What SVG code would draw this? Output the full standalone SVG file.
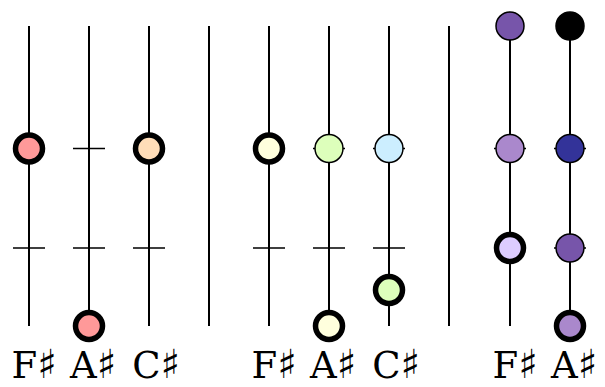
<svg xmlns="http://www.w3.org/2000/svg" width="605" height="387" viewBox="0 0 605 387">
<style>
.ln{stroke:#000;stroke-width:2;fill:none}
.tk{stroke:#000;stroke-width:1.6;fill:none}
.h{stroke:#000;stroke-width:5.5}
.t{stroke:#000;stroke-width:1.5}
.lb{font-family:"DejaVu Serif","DejaVu Sans",serif;font-size:37px;fill:#000}
.sh{font-family:"DejaVu Sans",sans-serif;font-size:40px}
</style>
<rect width="605" height="387" fill="#fff"/>
<g id="connectors">
<path class="ln" d="M29 26V326M89 26V326M149 26V326M209 26V326M269 26V326M329 26V326M389 26V326M449 26V326M510 26V326M570 26V326"/>
<path class="tk" d="M13 148.5H45M73 148.5H105M133 148.5H165M253 148.5H285M313 148.5H345M373 148.5H405M494 148.5H526M554 148.5H586"/>
<path class="tk" d="M13 248H45M73 248H105M133 248H165M253 248H285M313 248H345M373 248H405M494 248H526M554 248H586"/>
</g>
<g id="n1"><circle class="h" cx="29" cy="148.5" r="13.5" fill="#ff9999"/></g>
<g id="n2"><circle class="h" cx="89" cy="326" r="13.5" fill="#ff9999"/></g>
<g id="n3"><circle class="h" cx="149" cy="148.5" r="13.5" fill="#ffddb8"/></g>
<g id="n4"><circle class="h" cx="269" cy="148.5" r="13.5" fill="#ffffdd"/></g>
<g id="n5"><circle class="t" cx="329" cy="148.5" r="14" fill="#ddffbb"/></g>
<g id="n6"><circle class="t" cx="389" cy="148.5" r="14" fill="#cceeff"/></g>
<g id="n7"><circle class="h" cx="329" cy="326" r="13.5" fill="#ffffdd"/></g>
<g id="n8"><circle class="h" cx="389" cy="290" r="13.5" fill="#ddffbb"/></g>
<g id="n9"><circle class="t" cx="510" cy="26" r="14" fill="#7755aa"/></g>
<g id="n10"><circle class="t" cx="510" cy="148.5" r="14" fill="#aa88cc"/></g>
<g id="n11"><circle class="h" cx="510" cy="248" r="13.5" fill="#ddccff"/></g>
<g id="n12"><circle class="t" cx="570" cy="26" r="14" fill="#000"/></g>
<g id="n13"><circle class="t" cx="570" cy="148.5" r="14" fill="#333399"/></g>
<g id="n14"><circle class="t" cx="570" cy="248" r="14" fill="#7755aa"/></g>
<g id="n15"><circle class="h" cx="570" cy="326" r="13.5" fill="#aa88cc"/></g>
<g id="labels">
<text class="lb" x="34" y="377.5" text-anchor="middle">F<tspan class="sh">♯</tspan></text>
<text class="lb" x="93" y="377.5" text-anchor="middle">A<tspan class="sh">♯</tspan></text>
<text class="lb" x="156" y="377.5" text-anchor="middle">C<tspan class="sh">♯</tspan></text>
<text class="lb" x="274" y="377.5" text-anchor="middle">F<tspan class="sh">♯</tspan></text>
<text class="lb" x="333" y="377.5" text-anchor="middle">A<tspan class="sh">♯</tspan></text>
<text class="lb" x="396" y="377.5" text-anchor="middle">C<tspan class="sh">♯</tspan></text>
<text class="lb" x="515" y="377.5" text-anchor="middle">F<tspan class="sh">♯</tspan></text>
<text class="lb" x="574" y="377.5" text-anchor="middle">A<tspan class="sh">♯</tspan></text>
</g>
</svg>
